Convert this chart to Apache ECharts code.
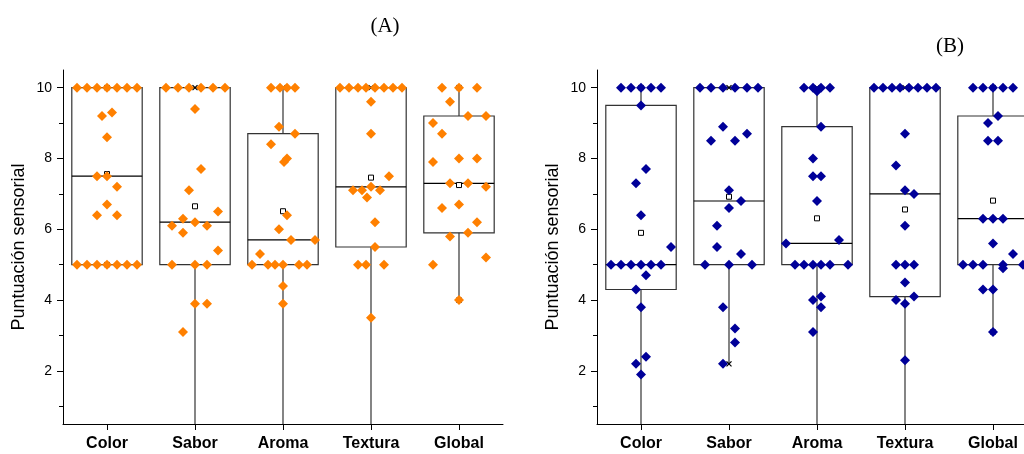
<!DOCTYPE html>
<html>
<head>
<meta charset="utf-8">
<script src="https://cdn.jsdelivr.net/npm/echarts@6/dist/echarts.min.js"></script>
<style>
  html, body { margin: 0; padding: 0; background: #fff; }
  #chart { width: 1024px; height: 454px; }
</style>
</head>
<body>
<div id="chart"></div>
<script>
const categories = ['Color', 'Sabor', 'Aroma', 'Textura', 'Global'];
const yTicks = [2, 4, 6, 8, 10];
const yMinorTicks = [1, 3, 5, 7, 9];

// (A) puntuaciones de cada panelista
const colorA   = [10, 10, 10, 10, 10, 10, 10, 9.3, 9.2, 8.6, 7.5, 7.5, 7.2, 6.7, 6.4, 6.4, 5, 5, 5, 5, 5, 5, 5];
const saborA   = [10, 10, 10, 10, 10, 10, 9.4, 7.7, 7.1, 6.5, 6.3, 6.2, 6.1, 6.1, 5.9, 5.4, 5, 5, 5, 3.9, 3.9, 3.1];
const aromaA   = [10, 10, 10, 10, 8.9, 8.7, 8.4, 8.0, 7.9, 6.4, 6.0, 5.7, 5.7, 5.3, 5, 5, 5, 5, 5, 5, 4.4, 3.9];
const texturaA = [10, 10, 10, 10, 10, 10, 10, 10, 9.6, 8.7, 7.5, 7.2, 7.1, 7.1, 7.1, 6.9, 6.2, 5.5, 5, 5, 5, 3.5];
const globalA  = [10, 10, 10, 9.6, 9.2, 9.2, 9.0, 8.7, 8.0, 8.0, 7.9, 7.3, 7.3, 7.2, 6.7, 6.6, 6.2, 5.9, 5.8, 5.2, 5.0, 4.0];

// (B)
const colorB   = [10, 10, 10, 10, 10, 9.5, 7.7, 7.3, 6.4, 5.5, 5, 5, 5, 5, 5, 5, 4.7, 4.3, 3.8, 2.4, 2.2, 1.9];
const saborB   = [10, 10, 10, 10, 10, 10, 8.9, 8.7, 8.5, 8.5, 7.1, 6.8, 6.6, 6.1, 5.5, 5.3, 5, 5, 5, 3.8, 3.2, 2.8, 2.2];
const aromaB   = [10, 10, 10, 10, 9.9, 8.9, 8.0, 7.5, 7.5, 6.8, 5.7, 5.6, 5, 5, 5, 5, 5, 5, 4.1, 4.0, 3.8, 3.1];
const texturaB = [10, 10, 10, 10, 10, 10, 10, 10, 8.7, 7.8, 7.1, 7.0, 6.1, 5, 5, 5, 4.5, 4.1, 4.0, 3.9, 2.3];
const globalB  = [10, 10, 10, 10, 10, 9.2, 9.0, 8.5, 8.5, 6.3, 6.3, 6.3, 5.6, 5.3, 5, 5, 5, 5, 5, 4.9, 4.3, 4.3, 3.1];

// horizontal spread of the points, px at an 88 px wide category
const colorAJitter   = [-30, -20, -10, 0, 10, 20, 30, 5, -5, 0, -10, 0, 10, 0, -10, 10, -30, -20, -10, 0, 10, 20, 30];
const saborAJitter   = [-29, -17, -6, 6, 18, 30, 0, 6, -6, 23, -12, 0, -23, 12, -12, 23, -23, 0, 12, 0, 12, -12];
const aromaAJitter   = [-12, -3, 4, 12, -4, 12, -12, 4, 1, 4, -4, 8, 32, -23, -31, -15, -8, 0, 16, 24, 0, 0];
const texturaAJitter = [-31, -22, -13, -5, 4, 13, 22, 31, 0, 0, 18, 0, -18, -9, 9, -4, 4, 4, -13, -5, 13, 0];
const globalAJitter  = [-17, 0, 18, -9, 9, 27, -26, -17, 0, 18, -26, -9, 9, 27, 0, -17, 18, 9, -9, 27, -26, 0];

const colorBJitter   = [-20, -10, 0, 10, 20, 0, 5, -5, 0, 30, -30, -20, -10, 0, 10, 20, 5, -5, 0, 5, -5, 0];
const saborBJitter   = [-29, -18, -6, 6, 18, 29, -6, 18, -18, 6, 0, 12, 0, -12, -12, 12, -24, 0, 23, -6, 6, 6, -6];
const aromaBJitter   = [-13, -4, 4, 13, 0, 4, -4, -4, 4, 0, 22, -31, -22, -13, -4, 4, 13, 31, 4, -4, 4, -4];
const texturaBJitter = [-31, -22, -13, -5, 4, 13, 22, 31, 0, -9, 0, 9, 0, -9, 0, 9, 0, 9, -9, 0, 0];
const globalBJitter  = [-20, -10, 0, 10, 20, 5, -5, -5, 5, -10, 0, 10, 0, 20, -30, -20, -10, 10, 30, 10, -10, 0, 0];

// caja: [bigote inf, Q1, mediana, Q3, bigote sup]
const boxA = [[5, 5, 7.5, 10, 10], [0, 5, 6.2, 10, 10], [0, 5, 5.7, 8.7, 10], [0, 5.5, 7.2, 10, 10], [4, 5.9, 7.3, 9.2, 10]];
const meanA = [7.56, 6.65, 6.51, 7.46, 7.25];
const boxB = [[0, 4.3, 5, 9.5, 10], [2.2, 5, 6.8, 10, 10], [0, 5, 5.6, 8.9, 10], [0, 4.1, 7.0, 10, 10], [3.1, 5, 6.3, 9.2, 10]];
const meanB = [5.9, 6.92, 6.31, 6.56, 6.81];

const panelA = [[colorA, colorAJitter], [saborA, saborAJitter], [aromaA, aromaAJitter], [texturaA, texturaAJitter], [globalA, globalAJitter]];
const panelB = [[colorB, colorBJitter], [saborB, saborBJitter], [aromaB, aromaBJitter], [texturaB, texturaBJitter], [globalB, globalBJitter]];

const BAND_PX = 88;
const FONT = '"Liberation Sans", Arial, sans-serif';

function pointsOf(panel) {
  const out = [];
  panel.forEach(([vals, jit], i) => {
    vals.forEach((v, k) => out.push([i + 1 + jit[k] / BAND_PX, v]));
  });
  return out;
}

function boxesOf(box, mean) {
  return box.map((b, i) => [i + 1].concat(b, [mean[i]]));
}

function renderBox(params, api) {
  const x = api.value(0);
  const half = api.size([0.8, 0])[0] / 2;
  const p = (k) => api.coord([x, api.value(k)]);
  const lo = p(1), q1 = p(2), md = p(3), q3 = p(4), hi = p(5), mn = p(6);
  const cx = lo[0];
  const st = { stroke: '#333', lineWidth: 1.2 };
  const cross = (pt) => [
    { type: 'line', shape: { x1: pt[0] - 2.5, y1: pt[1] - 2.5, x2: pt[0] + 2.5, y2: pt[1] + 2.5 }, style: { stroke: '#000', lineWidth: 1.2 } },
    { type: 'line', shape: { x1: pt[0] - 2.5, y1: pt[1] + 2.5, x2: pt[0] + 2.5, y2: pt[1] - 2.5 }, style: { stroke: '#000', lineWidth: 1.2 } }
  ];
  return {
    type: 'group',
    children: [
      { type: 'line', shape: { x1: cx, y1: lo[1], x2: cx, y2: q1[1] }, style: st },
      { type: 'line', shape: { x1: cx, y1: q3[1], x2: cx, y2: hi[1] }, style: st },
      { type: 'rect', shape: { x: cx - half, y: q3[1], width: half * 2, height: q1[1] - q3[1] }, style: { fill: 'none', stroke: '#333', lineWidth: 1.2 } },
      { type: 'line', shape: { x1: cx - half, y1: md[1], x2: cx + half, y2: md[1] }, style: { stroke: '#000', lineWidth: 1.2 } },
      { type: 'rect', shape: { x: mn[0] - 2.5, y: mn[1] - 2.5, width: 5, height: 5 }, style: { fill: '#fff', stroke: '#000', lineWidth: 1 } }
    ].concat(cross(lo), cross(hi))
  };
}

function xAxisFor(gridIndex) {
  return {
    type: 'value', gridIndex: gridIndex, min: 0.5, max: 5.5,
    axisLine: { show: true, lineStyle: { color: '#000', width: 1 } },
    axisTick: { show: true, customValues: [1, 2, 3, 4, 5], length: 6, lineStyle: { color: '#000' } },
    axisLabel: {
      customValues: [1, 2, 3, 4, 5],
      formatter: (v) => categories[Math.round(v) - 1],
      fontFamily: FONT, fontSize: 16, fontWeight: 'bold', color: '#000', margin: 12
    },
    splitLine: { show: false }
  };
}

function yAxesFor(gridIndex) {
  return [{
    type: 'value', gridIndex: gridIndex, min: 0.5, max: 10.5,
    name: 'Puntuación sensorial', nameLocation: 'middle', nameRotate: 90, nameGap: 35,
    nameTextStyle: { fontFamily: FONT, fontSize: 18, color: '#000' },
    axisLine: { show: true, lineStyle: { color: '#000', width: 1 } },
    axisTick: { show: true, customValues: yTicks, length: 6, lineStyle: { color: '#000' } },
    axisLabel: { customValues: yTicks, fontFamily: FONT, fontSize: 14, color: '#000', margin: 11 },
    splitLine: { show: false }
  }, {
    type: 'value', gridIndex: gridIndex, min: 0.5, max: 10.5, position: 'left',
    axisLine: { show: false },
    axisTick: { show: true, customValues: yMinorTicks, length: 4, lineStyle: { color: '#000' } },
    axisLabel: { show: false },
    splitLine: { show: false }
  }];
}

const chart = echarts.init(document.getElementById('chart'), null, { renderer: 'canvas' });

chart.setOption({
  animation: false,
  backgroundColor: '#fff',
  graphic: [
    { type: 'text', x: 385, y: 26, style: { text: '(A)', font: '21px "Liberation Serif", "Times New Roman", serif', fill: '#000', textAlign: 'center', textVerticalAlign: 'middle' } },
    { type: 'text', x: 950, y: 46, style: { text: '(B)', font: '21px "Liberation Serif", "Times New Roman", serif', fill: '#000', textAlign: 'center', textVerticalAlign: 'middle' } }
  ],
  grid: [
    { left: 63, top: 70, width: 440, height: 354, containLabel: false, outerBoundsMode: 'none' },
    { left: 597, top: 70, width: 440, height: 354, containLabel: false, outerBoundsMode: 'none' }
  ],
  xAxis: [xAxisFor(0), xAxisFor(1)],
  yAxis: yAxesFor(0).concat(yAxesFor(1)),
  series: [
    { type: 'custom', xAxisIndex: 0, yAxisIndex: 0, clip: true, z: 2, renderItem: renderBox, data: boxesOf(boxA, meanA) },
    { type: 'custom', xAxisIndex: 1, yAxisIndex: 2, clip: true, z: 2, renderItem: renderBox, data: boxesOf(boxB, meanB) },
    { type: 'scatter', xAxisIndex: 0, yAxisIndex: 0, z: 3, symbol: 'diamond', symbolSize: 10, itemStyle: { color: '#ff8000', opacity: 1 }, data: pointsOf(panelA) },
    { type: 'scatter', xAxisIndex: 1, yAxisIndex: 2, z: 3, symbol: 'diamond', symbolSize: 10, itemStyle: { color: '#000099', opacity: 1 }, data: pointsOf(panelB) }
  ]
});
</script>
</body>
</html>
